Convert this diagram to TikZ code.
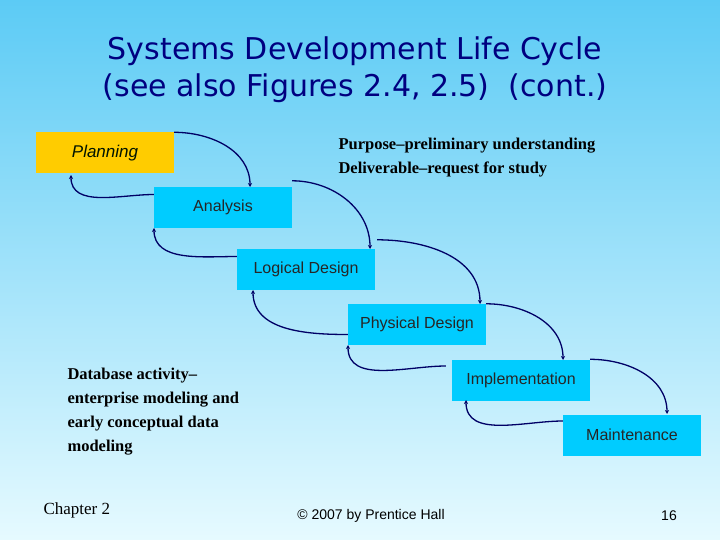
\documentclass[tikz,border=0pt]{standalone}
\usepackage{fontspec}
\setmainfont{Liberation Serif}
\setsansfont{Liberation Sans}
\newfontfamily\titlefont{DejaVu Sans}
\usetikzlibrary{arrows.meta}
\definecolor{boxc}{HTML}{00CCFF}
\definecolor{gold}{HTML}{FFCC00}
\definecolor{navy}{HTML}{000066}
\definecolor{bgtop}{HTML}{5CCBF5}
\definecolor{bgbot}{HTML}{E6FAFF}
\definecolor{titlec}{HTML}{000080}
\begin{document}
\begin{tikzpicture}[x=1pt,y=-1pt,
  box/.style={fill=boxc,minimum width=138pt,minimum height=41pt,inner sep=0pt,font=\sffamily\fontsize{16}{18}\selectfont,text=black!85},
  arr/.style={draw=navy,line width=1.3pt,-{Stealth[length=4pt,width=4pt]}}]
\shade[top color=bgtop,bottom color=bgbot] (0,0) rectangle (720,540);
\useasboundingbox (0,0) rectangle (720,540);
\node[text=titlec,font=\titlefont\fontsize{30}{37}\selectfont,align=center] (title) at (355,70) {Systems Development Life Cycle\\(see also Figures 2.4, 2.5)\ \ (cont.)};
\node[box,fill=gold,font=\sffamily\itshape\fontsize{17}{19}\selectfont,text=black!80!green!40!black] (p) at (105,153) {Planning};
\node[box] (a) at (223,207.5) {Analysis};
\node[box] (l) at (306,269.5) {Logical Design};
\node[box] (ph) at (417,324.5) {Physical Design};
\node[box] (i) at (521,380) {Implementation};
\node[box] (m) at (632,435) {Maintenance};
\node[font=\bfseries\fontsize{16.5}{24}\selectfont,align=left,anchor=north west] (pur) at (335,135) {Purpose--preliminary understanding\\Deliverable--request for study};
\node[font=\bfseries\fontsize{16.5}{24}\selectfont,align=left,anchor=north west] (db) at (64,365) {Database activity--\\enterprise modeling and\\early conceptual data\\modeling};
\node[font=\fontsize{17}{20}\selectfont,anchor=west] (ch) at (40,510) {Chapter 2};
\node[font=\sffamily\fontsize{14}{16}\selectfont] (cp) at (371,516) {\textcopyright{} 2007 by Prentice Hall};
\node[font=\sffamily\fontsize{14}{16}\selectfont] (pg) at (669,516) {16};
% anchor coordinates
\coordinate (ain) at (250,187);
\coordinate (lin) at (370,249);
\coordinate (phin) at (480,304);
\coordinate (iin) at (563,360);
\coordinate (min) at (667,414);
\coordinate (pout) at (71,175);
\coordinate (aout) at (154,228);
\coordinate (lout) at (253,290);
\coordinate (phout) at (348,345);
\coordinate (iout) at (466,400);
% forward arrows
\draw[arr] (p.north east) to[out=0,in=90] (ain);
\draw[arr] ([yshift=6pt]a.north east) to[out=0,in=90] (lin);
\draw[arr] ([yshift=9pt,xshift=2pt]l.north east) to[out=0,in=90] (phin);
\draw[arr] (ph.north east) to[out=0,in=90] (iin);
\draw[arr] (i.north east) to[out=0,in=90] (min);
% backward arrows
\draw[arr] ([yshift=13pt]a.west) to[out=180,in=-90] (pout);
\draw[arr] ([yshift=13pt]l.west) to[out=180,in=-90] (aout);
\draw[arr] ([yshift=-10pt]ph.west) to[out=180,in=-90] (lout);
\draw[arr] ([xshift=-6pt,yshift=14pt]i.west) to[out=180,in=-90] (phout);
\draw[arr] ([yshift=14pt]m.west) to[out=180,in=-90] (iout);
\end{tikzpicture}
\end{document}
